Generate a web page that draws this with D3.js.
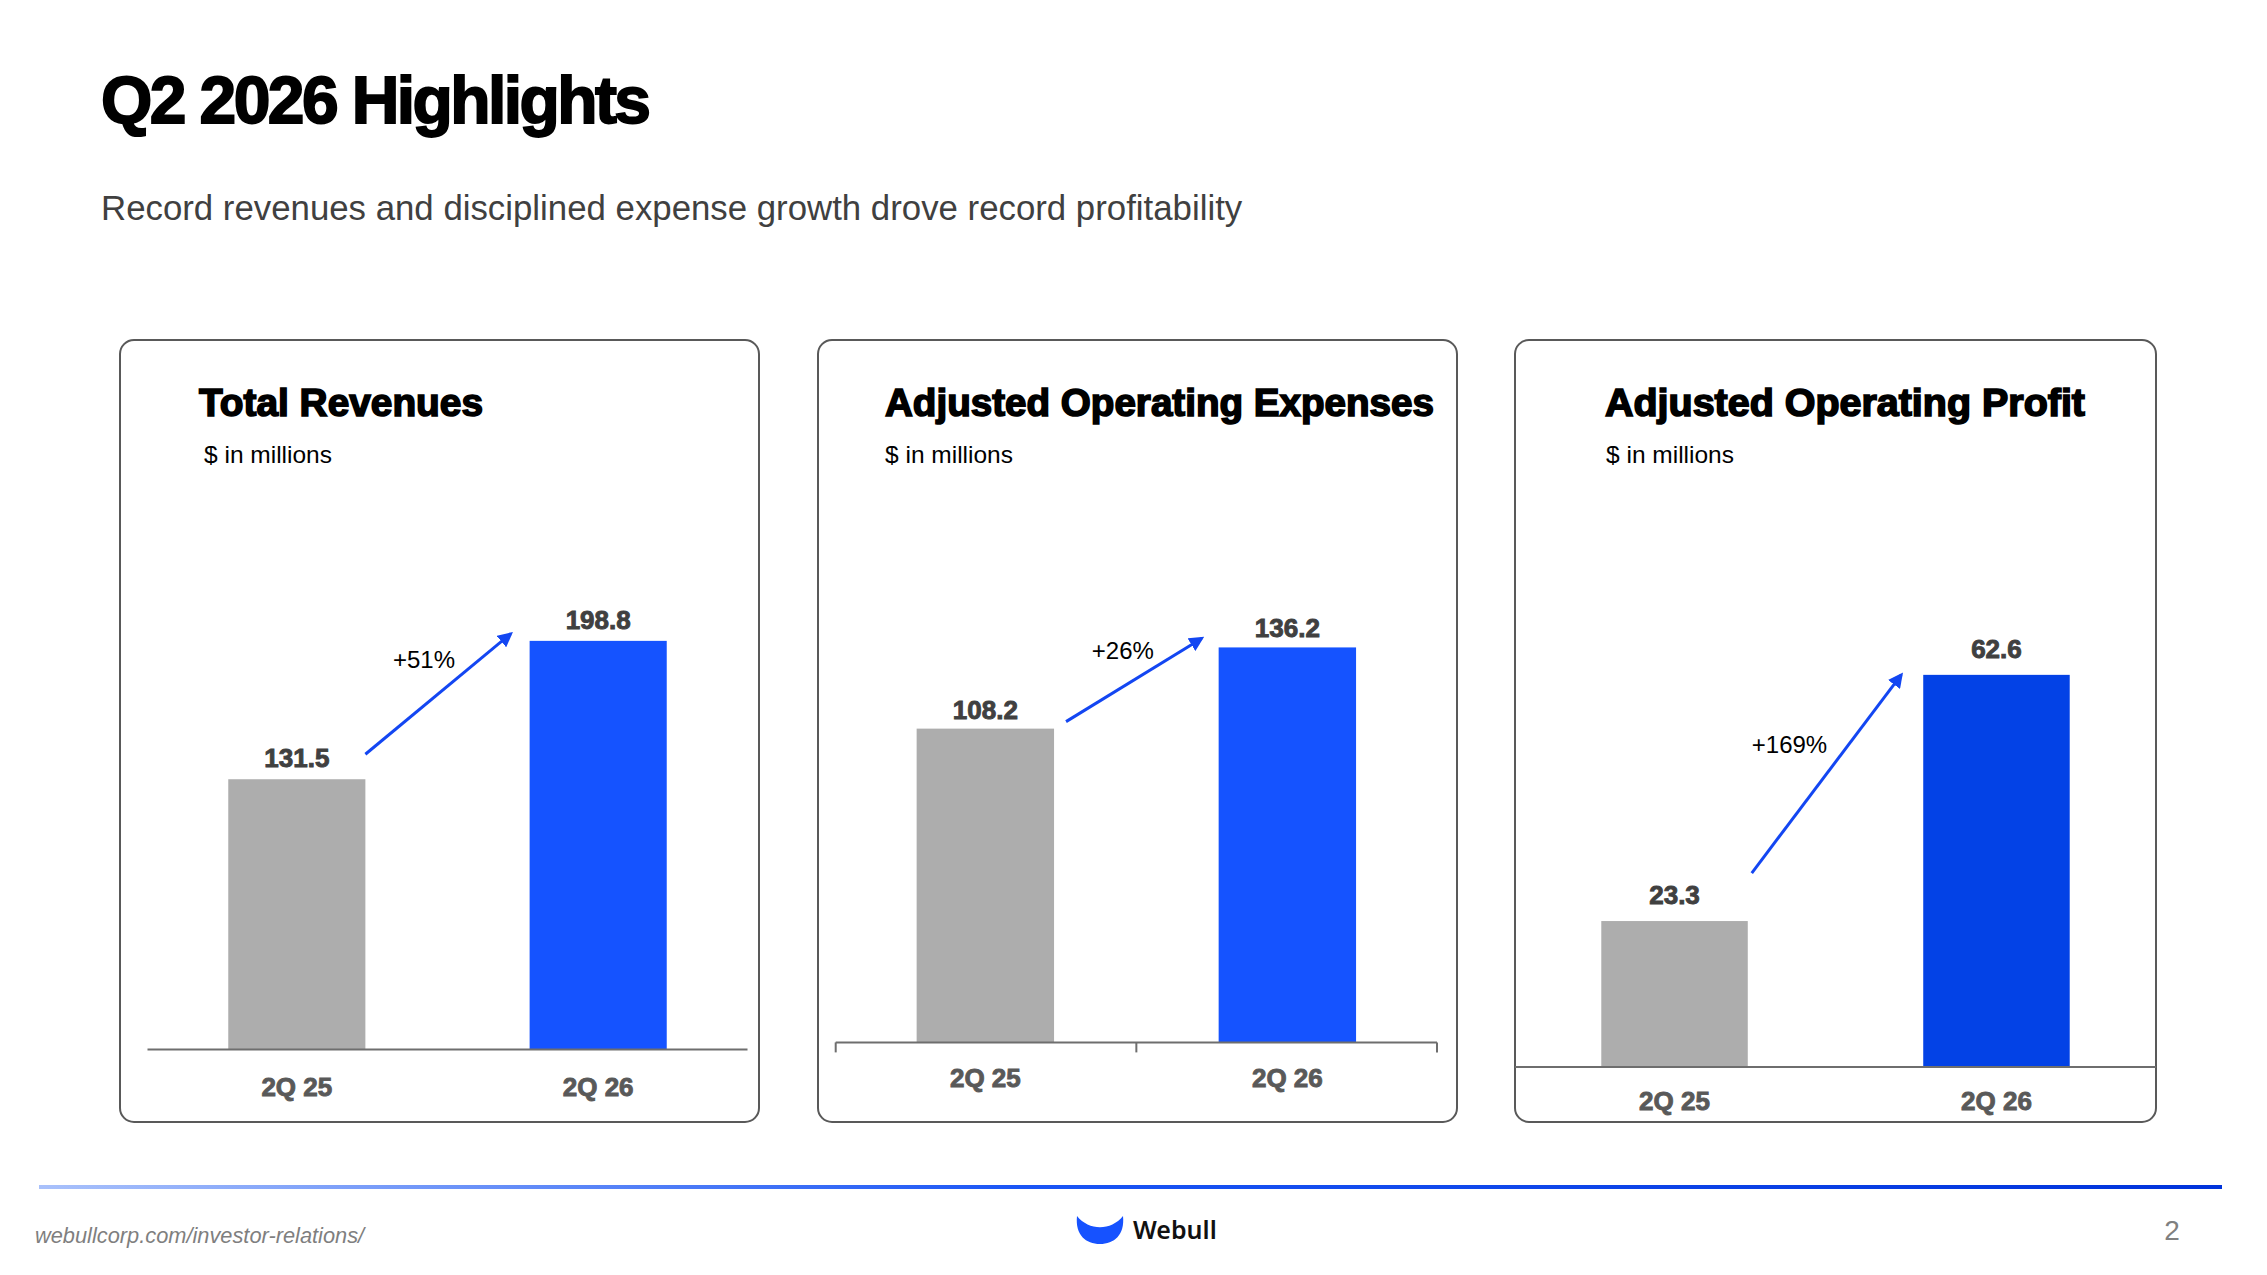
<!DOCTYPE html>
<html>
<head>
<meta charset="utf-8">
<script src="https://cdn.jsdelivr.net/npm/d3@7"></script>
<style>
  html,body{margin:0;padding:0;background:#fff;}
  svg{display:block;font-family:"Liberation Sans",Arial,sans-serif;}
</style>
</head>
<body>
<div id="chart"></div>
<script>
// data
const categories = ['2Q 25', '2Q 26'];
const revenues = [131.5, 198.8];
const opExpenses = [108.2, 136.2];
const opProfit = [23.3, 62.6];
const growthLabels = ['+51%', '+26%', '+169%'];
const panelTitles = ['Total Revenues', 'Adjusted Operating Expenses', 'Adjusted Operating Profit'];
const unitLabel = '$ in millions';

const W=2267, H=1275;
const svg=d3.select('#chart').append('svg').attr('width',W).attr('height',H);

svg.append('text').attr('x',101).attr('y',123)
  .attr('font-size',66).attr('font-weight','bold').attr('letter-spacing','-2.6px')
  .attr('fill','#000').attr('stroke','#000').attr('stroke-width',1.8)
  .text('Q2 2026 Highlights');
svg.append('text').attr('x',101).attr('y',220)
  .attr('font-size',34.8).attr('fill','#404040')
  .text('Record revenues and disciplined expense growth drove record profitability');

// panel layout (positions/styles only)
const panels=[
  {values:revenues, x0:120, x1:759, titleX:199, titleW:284, unitX:204,
   base:1049.6, axisX:[147.5,747.5], yMax:250, h:514, ticks:false, blue:'#1553FF',
   catY:1096, valGap:12, arrow:{dx0:0,dy0:25,dx1:19,dy1:7}, pct:{dx:-14,dy:-26}},
  {values:opExpenses, x0:818, x1:1457, titleX:885, titleW:549, unitX:885,
   base:1042.4, axisX:[835.7,1437], yMax:160, h:464, ticks:true, blue:'#1553FF',
   catY:1087, valGap:10, arrow:{dx0:12,dy0:7,dx1:17,dy1:9}, pct:{dx:-11,dy:-21}},
  {values:opProfit, x0:1515, x1:2156, titleX:1605, titleW:480, unitX:1606,
   base:1067, axisX:[1515,2156], yMax:70, h:438.5, ticks:false, blue:'#0342E6',
   catY:1110, valGap:17, arrow:{dx0:4,dy0:48,dx1:22,dy1:0}, pct:{dx:-37,dy:-21}}
];

const defs=svg.append('defs');
const arrowColor='#1346F2';
defs.append('marker').attr('id','ah').attr('viewBox','0 0 10 10')
  .attr('refX',8).attr('refY',5).attr('markerWidth',5).attr('markerHeight',5)
  .attr('orient','auto').attr('markerUnits','strokeWidth')
  .append('path').attr('d','M0,0L10,5L0,10z').attr('fill',arrowColor);

panels.forEach((p,i)=>{
  const g=svg.append('g');
  g.append('rect').attr('x',p.x0).attr('y',340).attr('width',p.x1-p.x0).attr('height',782)
    .attr('rx',14).attr('fill','none').attr('stroke','#595959').attr('stroke-width',2);
  g.append('text').attr('x',p.titleX).attr('y',416).attr('font-size',38).attr('font-weight','bold')
    .attr('textLength',p.titleW).attr('lengthAdjust','spacingAndGlyphs')
    .attr('fill','#000').attr('stroke','#000').attr('stroke-width',1.6).text(panelTitles[i]);
  g.append('text').attr('x',p.unitX).attr('y',463).attr('font-size',24.5).attr('fill','#000').text(unitLabel);

  const x=d3.scaleBand().domain(categories).range(p.axisX).paddingInner(0.545).paddingOuter(0.268);
  const y=d3.scaleLinear().domain([0,p.yMax]).range([p.base,p.base-p.h]);
  const bw=x.bandwidth();

  g.selectAll('rect.bar').data(p.values).join('rect').attr('class','bar')
    .attr('x',(d,j)=>x(categories[j])).attr('width',bw)
    .attr('y',d=>y(d)).attr('height',d=>y(0)-y(d))
    .attr('fill',(d,j)=>j===0?'#ADADAD':p.blue);

  // axis
  const ax=g.append('g').attr('transform',`translate(0,${p.base})`)
    .call(d3.axisBottom(x).tickSize(0).tickFormat(''));
  ax.select('.domain').attr('d',`M${p.axisX[0]},0H${p.axisX[1]}`).attr('stroke','#6e6e6e').attr('stroke-width',2);
  if(p.ticks){
    const mids=[p.axisX[0],(x(categories[0])+x(categories[1])+bw)/2,p.axisX[1]];
    ax.selectAll('line.tk').data(mids).join('line').attr('class','tk')
      .attr('x1',d=>d).attr('x2',d=>d).attr('y1',0).attr('y2',10)
      .attr('stroke','#6e6e6e').attr('stroke-width',2);
  }
  g.selectAll('text.cat').data(categories).join('text').attr('class','cat')
    .attr('x',d=>x(d)+bw/2).attr('y',p.catY).attr('text-anchor','middle')
    .attr('font-size',26).attr('font-weight','bold').attr('fill','#595959')
    .attr('stroke','#595959').attr('stroke-width',0.9).text(d=>d);

  g.selectAll('text.val').data(p.values).join('text').attr('class','val')
    .attr('x',(d,j)=>x(categories[j])+bw/2).attr('y',d=>y(d)-p.valGap).attr('text-anchor','middle')
    .attr('font-size',26).attr('font-weight','bold').attr('fill','#404040')
    .attr('stroke','#404040').attr('stroke-width',0.9).text(d=>d.toFixed(1));

  // growth arrow
  const a=p.arrow;
  const sx=x(categories[0])+bw+a.dx0, sy=y(p.values[0])-a.dy0;
  const ex=x(categories[1])-a.dx1, ey=y(p.values[1])-a.dy1;
  g.append('line').attr('x1',sx).attr('y1',sy).attr('x2',ex).attr('y2',ey)
    .attr('stroke',arrowColor).attr('stroke-width',3).attr('marker-end','url(#ah)');
  g.append('text').attr('x',(sx+ex)/2+p.pct.dx).attr('y',(sy+ey)/2+p.pct.dy)
    .attr('text-anchor','middle').attr('font-size',24).attr('fill','#000').text(growthLabels[i]);
});

// footer
const grad=defs.append('linearGradient').attr('id','fg').attr('x1','0').attr('x2','1');
grad.append('stop').attr('offset','0').attr('stop-color','#A9C1FB');
grad.append('stop').attr('offset','0.45').attr('stop-color','#1A55F5');
grad.append('stop').attr('offset','1').attr('stop-color','#0033DB');
svg.append('rect').attr('x',39).attr('y',1185).attr('width',2183).attr('height',4).attr('fill','url(#fg)');

svg.append('text').attr('x',35).attr('y',1243).attr('font-size',21.8).attr('font-style','italic')
  .attr('fill','#7F7F7F').text('webullcorp.com/investor-relations/');
svg.append('text').attr('x',2172).attr('y',1240).attr('text-anchor','middle').attr('font-size',28)
  .attr('fill','#808080').text('2');

svg.append('path')
  .attr('d','M1077,1216C1089,1231 1111,1231 1123,1216C1125,1235 1114,1244 1100,1244C1086,1244 1075,1235 1077,1216Z')
  .attr('fill','#1652FF');
svg.append('text').attr('x',1133).attr('y',1239).attr('font-family','"Noto Sans",sans-serif')
  .attr('font-size',25).attr('font-weight',600).attr('fill','#111').text('Webull');
</script>
</body>
</html>
